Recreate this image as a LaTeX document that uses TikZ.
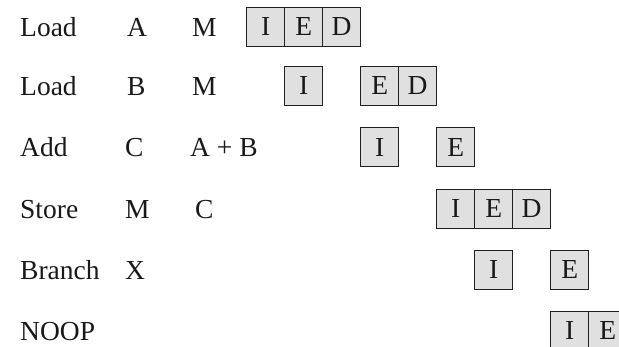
\documentclass[tikz,border=0pt]{standalone}
\usepackage{fontspec}
\setmainfont{Liberation Serif}
\definecolor{boxfill}{HTML}{E0E0E0}
\definecolor{boxline}{HTML}{202020}
\begin{document}
\begin{tikzpicture}[x=1pt,y=-1pt,
  lbl/.style={anchor=base west,inner sep=0pt,font=\fontsize{27.5}{30}\selectfont,text=black!90},
  stage/.style={draw=boxline,line width=1.3pt,fill=boxfill,minimum width=38pt,minimum height=39pt,
    inner sep=0pt,anchor=north west,font=\fontsize{27.5}{30}\selectfont,text=black!90}]
\useasboundingbox (0,0) rectangle (619,346);
\clip (0,0) rectangle (619,346);
% row 1
\node[lbl] (op1) at (20,36) {Load};
\node[lbl] (a1) at (127,36) {A};
\node[lbl] (b1) at (192,36) {M};
\node[stage] (r1i) at (246,6.5) {I};
\node[stage] (r1e) at (284,6.5) {E};
\node[stage] (r1d) at (322,6.5) {D};
% row 2
\node[lbl] (op2) at (20,95) {Load};
\node[lbl] (a2) at (127,95) {B};
\node[lbl] (b2) at (192,95) {M};
\node[stage] (r2i) at (284,65.5) {I};
\node[stage] (r2e) at (360,65.5) {E};
\node[stage] (r2d) at (398,65.5) {D};
% row 3
\node[lbl] (op3) at (20,156) {Add};
\node[lbl] (a3) at (125,156) {C};
\node[lbl] (b3) at (190,156) {A + B};
\node[stage] (r3i) at (360,127) {I};
\node[stage] (r3e) at (436,127) {E};
% row 4
\node[lbl] (op4) at (20,218) {Store};
\node[lbl] (a4) at (125,218) {M};
\node[lbl] (b4) at (195,218) {C};
\node[stage] (r4i) at (436,188.5) {I};
\node[stage] (r4e) at (474,188.5) {E};
\node[stage] (r4d) at (512,188.5) {D};
% row 5
\node[lbl] (op5) at (20,279) {Branch};
\node[lbl] (a5) at (125,279) {X};
\node[stage] (r5i) at (474,249.5) {I};
\node[stage] (r5e) at (550,249.5) {E};
% row 6
\node[lbl] (op6) at (20,340) {NOOP};
\node[stage] (r6i) at (550,310.5) {I};
\node[stage] (r6e) at (588,310.5) {E};
\end{tikzpicture}
\end{document}
